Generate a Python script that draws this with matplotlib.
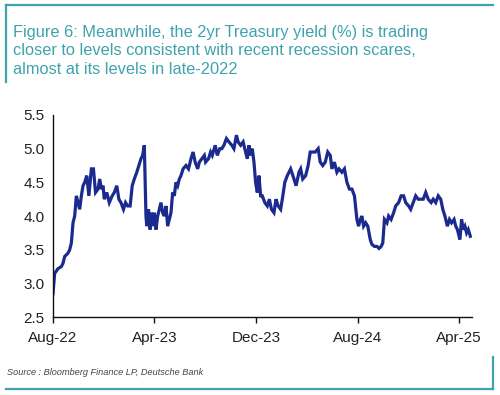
import pandas as pd
import matplotlib
matplotlib.use("Agg")
import matplotlib.pyplot as plt
from matplotlib.lines import Line2D

# 2yr Treasury yield (%)
dates = [
    "2022-08-01", "2022-08-05", "2022-08-13", "2022-08-21", "2022-08-25", "2022-08-29",
    "2022-09-06", "2022-09-10", "2022-09-14", "2022-09-18", "2022-09-22", "2022-09-26",
    "2022-09-30", "2022-10-04", "2022-10-08", "2022-10-12", "2022-10-16", "2022-10-21",
    "2022-10-26", "2022-11-01", "2022-11-06", "2022-11-11", "2022-11-17", "2022-11-21",
    "2022-11-25", "2022-11-29", "2022-12-02", "2022-12-08", "2022-12-14", "2022-12-21",
    "2022-12-26", "2023-01-01", "2023-01-06", "2023-01-11", "2023-01-17", "2023-01-22",
    "2023-01-27", "2023-02-02", "2023-02-07", "2023-02-12", "2023-02-18", "2023-02-23",
    "2023-02-28", "2023-03-04", "2023-03-08", "2023-03-10", "2023-03-12", "2023-03-14",
    "2023-03-18", "2023-03-22", "2023-03-25", "2023-03-28", "2023-04-01", "2023-04-05",
    "2023-04-09", "2023-04-13", "2023-04-17", "2023-04-21", "2023-04-25", "2023-04-29",
    "2023-05-03", "2023-05-07", "2023-05-11", "2023-05-15", "2023-05-19", "2023-05-23",
    "2023-05-27", "2023-05-31", "2023-06-04", "2023-06-09", "2023-06-16", "2023-06-22",
    "2023-06-28", "2023-07-03", "2023-07-08", "2023-07-14", "2023-07-18", "2023-07-24",
    "2023-07-30", "2023-08-02", "2023-08-09", "2023-08-14", "2023-08-18", "2023-08-25",
    "2023-08-30", "2023-09-05", "2023-09-10", "2023-09-15", "2023-09-21", "2023-09-27",
    "2023-10-04", "2023-10-09", "2023-10-15", "2023-10-19", "2023-10-25", "2023-10-31",
    "2023-11-06", "2023-11-10", "2023-11-14", "2023-11-18", "2023-11-22", "2023-11-26",
    "2023-11-30", "2023-12-04", "2023-12-08", "2023-12-12", "2023-12-16", "2023-12-22",
    "2023-12-28", "2024-01-02", "2024-01-07", "2024-01-13", "2024-01-18", "2024-01-23",
    "2024-01-29", "2024-02-02", "2024-02-08", "2024-02-14", "2024-02-22", "2024-03-01",
    "2024-03-06", "2024-03-13", "2024-03-17", "2024-03-22", "2024-03-29", "2024-04-04",
    "2024-04-09", "2024-04-15", "2024-04-21", "2024-04-28", "2024-05-03", "2024-05-09",
    "2024-05-15", "2024-05-21", "2024-05-27", "2024-05-31", "2024-06-06", "2024-06-12",
    "2024-06-17", "2024-06-24", "2024-06-30", "2024-07-06", "2024-07-12", "2024-07-18",
    "2024-07-24", "2024-07-30", "2024-08-03", "2024-08-07", "2024-08-11", "2024-08-15",
    "2024-08-20", "2024-08-25", "2024-08-31", "2024-09-04", "2024-09-10", "2024-09-16",
    "2024-09-21", "2024-09-26", "2024-09-30", "2024-10-04", "2024-10-10", "2024-10-14",
    "2024-10-20", "2024-10-26", "2024-10-31", "2024-11-07", "2024-11-13", "2024-11-19",
    "2024-11-24", "2024-12-01", "2024-12-06", "2024-12-12", "2024-12-18", "2024-12-24",
    "2024-12-31", "2025-01-05", "2025-01-11", "2025-01-17", "2025-01-24", "2025-01-29",
    "2025-02-04", "2025-02-10", "2025-02-16", "2025-02-21", "2025-02-26", "2025-03-04",
    "2025-03-09", "2025-03-14", "2025-03-20", "2025-03-24", "2025-03-28", "2025-04-03",
    "2025-04-07", "2025-04-11", "2025-04-15", "2025-04-19", "2025-04-23", "2025-04-28",
]
yields = [
    2.85, 3.15, 3.22, 3.25, 3.30, 3.40,
    3.45, 3.50, 3.60, 3.90, 4.00, 4.30,
    4.20, 4.10, 4.30, 4.45, 4.50, 4.60,
    4.30, 4.70, 4.70, 4.35, 4.40, 4.55,
    4.40, 4.45, 4.25, 4.35, 4.20, 4.30,
    4.35, 4.45, 4.25, 4.20, 4.10, 4.20,
    4.15, 4.15, 4.45, 4.55, 4.65, 4.75,
    4.85, 4.90, 5.05, 4.50, 4.00, 3.85,
    4.10, 3.80, 4.05, 3.85, 4.05, 3.80,
    4.00, 4.10, 4.20, 4.05, 4.00, 4.15,
    3.85, 3.95, 4.05, 4.35, 4.30, 4.50,
    4.45, 4.55, 4.60, 4.70, 4.75, 4.70,
    4.85, 4.95, 4.80, 4.70, 4.80, 4.85,
    4.90, 4.80, 4.85, 4.95, 4.90, 5.05,
    4.90, 5.00, 5.00, 5.05, 5.15, 5.10,
    5.05, 5.00, 5.20, 5.10, 5.05, 5.10,
    4.95, 4.85, 5.05, 4.90, 5.00, 4.80,
    4.50, 4.35, 4.60, 4.30, 4.30, 4.20,
    4.15, 4.25, 4.10, 4.05, 4.25, 4.15,
    4.10, 4.25, 4.50, 4.60, 4.70, 4.55,
    4.45, 4.65, 4.70, 4.55, 4.60, 4.75,
    4.95, 4.95, 4.95, 5.00, 4.80, 4.75,
    4.80, 4.95, 4.90, 4.70, 4.80, 4.65,
    4.70, 4.65, 4.70, 4.50, 4.40, 4.40,
    4.30, 3.95, 3.85, 3.95, 4.00, 3.85,
    3.90, 3.85, 3.65, 3.58, 3.55, 3.55,
    3.52, 3.55, 3.60, 3.95, 3.90, 4.00,
    3.95, 4.05, 4.15, 4.20, 4.30, 4.30,
    4.20, 4.15, 4.10, 4.20, 4.30, 4.25,
    4.25, 4.25, 4.35, 4.25, 4.20, 4.25,
    4.20, 4.30, 4.25, 4.10, 4.00, 3.85,
    3.95, 3.90, 3.95, 3.85, 3.80, 3.65,
    3.95, 3.80, 3.85, 3.75, 3.80, 3.70,
]
tick_dates = ["2022-08-01", "2023-04-01", "2023-12-01", "2024-08-01", "2025-04-01"]
tick_labels = ["Aug-22", "Apr-23", "Dec-23", "Aug-24", "Apr-25"]
y_ticks = [2.5, 3.0, 3.5, 4.0, 4.5, 5.0, 5.5]

title = ("Figure 6: Meanwhile, the 2yr Treasury yield (%) is trading\n"
         "closer to levels consistent with recent recession scares,\n"
         "almost at its levels in late-2022")
source = "Source : Bloomberg Finance LP, Deutsche Bank"

teal = "#3fa3ad"
navy = "#1b2a8f"

plt.rcParams["font.family"] = ["Liberation Sans", "DejaVu Sans"]

df = pd.DataFrame({"date": pd.to_datetime(dates), "yield": yields})

fig = plt.figure(figsize=(5, 3.95), dpi=100)
ax = fig.add_axes([0.106, 0.197, 0.838, 0.512])

ax.plot(df["date"], df["yield"], color=navy, linewidth=2.3, solid_joinstyle="miter")

ax.set_ylim(2.5, 5.5)
ax.set_yticks(y_ticks)
ax.set_yticklabels([f"{v:.1f}" for v in y_ticks])
ax.set_xlim(pd.Timestamp("2022-08-01"), pd.Timestamp("2025-05-02"))
ax.set_xticks(pd.to_datetime(tick_dates))
ax.set_xticklabels(tick_labels)

for s in ["top", "right"]:
    ax.spines[s].set_visible(False)
for s in ["left", "bottom"]:
    ax.spines[s].set_color("#111111")
    ax.spines[s].set_linewidth(1.0)
ax.tick_params(axis="x", length=4, width=1.0, color="#111111", labelsize=11,
               labelcolor="#222222", pad=6)
ax.tick_params(axis="y", length=0, labelsize=11, labelcolor="#222222", pad=6)

# title and frame
fig.text(0.026, 0.937, title, ha="left", va="top", fontsize=11.8, color=teal,
         linespacing=1.28)
fig.add_artist(Line2D([0.012, 0.986], [0.988, 0.988], color=teal, lw=1.6))
fig.add_artist(Line2D([0.012, 0.012], [0.988, 0.792], color=teal, lw=1.6))
fig.add_artist(Line2D([0.012, 0.986], [0.015, 0.015], color=teal, lw=1.6))
fig.add_artist(Line2D([0.986, 0.986], [0.015, 0.096], color=teal, lw=1.6))

fig.text(0.014, 0.056, source, ha="left", va="center", fontsize=6.6,
         style="italic", color="#444444")

fig.savefig("out.png", dpi=100, facecolor="white")
